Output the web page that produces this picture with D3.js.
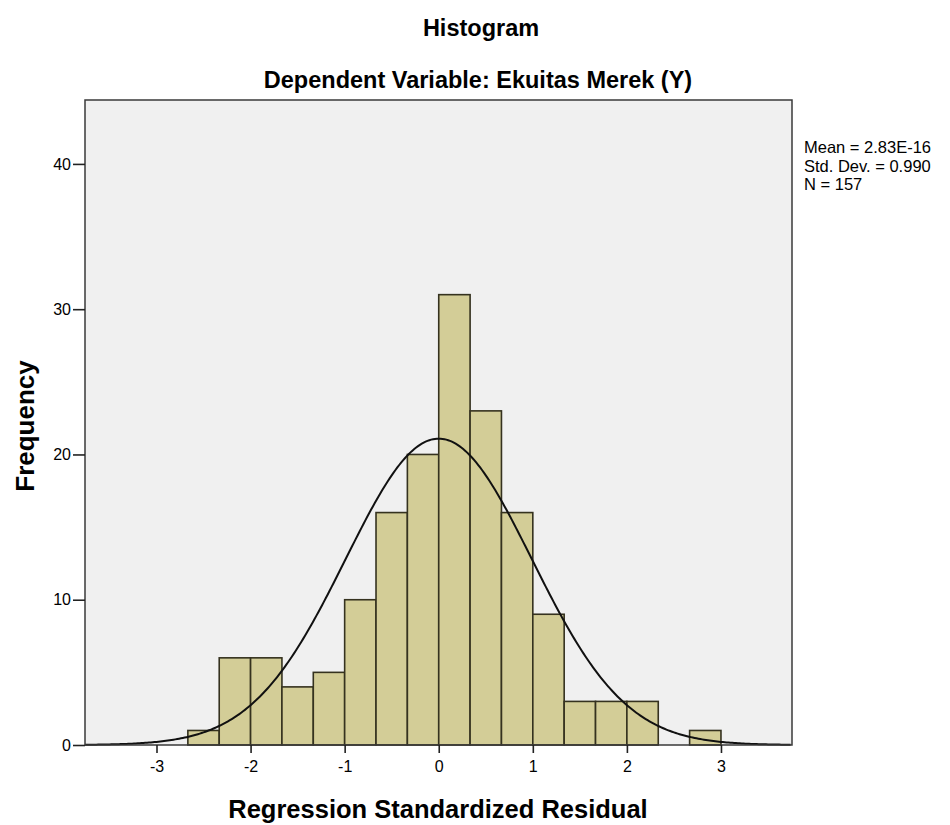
<!DOCTYPE html>
<html>
<head>
    <meta charset="utf-8" />
    <title>Histogram</title>
    <style>
        body { margin: 0; background: #fff; }
        text { font-family: "Liberation Sans", Arial, sans-serif; fill: #000; }
    </style>
</head>
<body>
    <div id="chart"></div>
    <script src="https://cdn.jsdelivr.net/npm/d3@7"></script>
    <script>
        // bins of width 1/3 starting at -8/3, counts
        var binStarts = [-8, -7, -6, -5, -4, -3, -2, -1, 0, 1, 2, 3, 4, 5, 6, 7, 8].map(function (k) { return k / 3; });
        var counts = [1, 6, 6, 4, 5, 10, 16, 20, 31, 23, 16, 9, 3, 3, 3, 0, 1];
        var binWidth = 1 / 3;
        var xTicks = [-3, -2, -1, 0, 1, 2, 3];
        var yTicks = [0, 10, 20, 30, 40];
        var statLines = ["Mean = 2.83E-16", "Std. Dev. = 0.990", "N = 157"];
        var mean = 2.83e-16, sd = 0.990, n = 157;

        var width = 950, height = 825;
        var margin = { top: 100, right: 158, bottom: 80, left: 85 };

        var svg = d3.select("#chart").append("svg")
            .attr("width", width)
            .attr("height", height);

        var x = d3.scaleLinear()
            .domain([-3.76, 3.755])
            .range([margin.left, width - margin.right]);

        var y = d3.scaleLinear()
            .domain([0, 44.4])
            .range([height - margin.bottom, margin.top]);

        // plot background
        svg.append("rect")
            .attr("x", margin.left)
            .attr("y", margin.top)
            .attr("width", x.range()[1] - x.range()[0])
            .attr("height", y.range()[0] - y.range()[1])
            .attr("fill", "#f0f0f0");

        var bins = binStarts.map(function (s, i) { return { x0: s, x1: s + binWidth, count: counts[i] }; });

        svg.append("g")
            .selectAll("rect")
            .data(bins.filter(function (d) { return d.count > 0; }))
            .join("rect")
            .attr("x", function (d) { return x(d.x0); })
            .attr("y", function (d) { return y(d.count); })
            .attr("width", function (d) { return x(d.x1) - x(d.x0); })
            .attr("height", function (d) { return y(0) - y(d.count); })
            .attr("fill", "#d3cd97")
            .attr("stroke", "#35321f")
            .attr("stroke-width", 1.6);

        // normal curve from the stated mean, sd and N
        var curvePts = d3.range(-3.76, 3.76, 0.02).map(function (v) {
            var z = (v - mean) / sd;
            return [v, n * binWidth * Math.exp(-0.5 * z * z) / (sd * Math.sqrt(2 * Math.PI))];
        });
        svg.append("path")
            .datum(curvePts)
            .attr("fill", "none")
            .attr("stroke", "#111")
            .attr("stroke-width", 2)
            .attr("d", d3.line().x(function (d) { return x(d[0]); }).y(function (d) { return y(d[1]); }));

        // frame
        svg.append("rect")
            .attr("x", margin.left)
            .attr("y", margin.top)
            .attr("width", x.range()[1] - x.range()[0])
            .attr("height", y.range()[0] - y.range()[1])
            .attr("fill", "none")
            .attr("stroke", "#3a3a3a")
            .attr("stroke-width", 1.5);

        var plainFmt = function (d) { return String(d); };

        var xAxis = svg.append("g")
            .attr("transform", "translate(0," + y(0) + ")")
            .call(d3.axisBottom(x).tickValues(xTicks).tickSize(8).tickPadding(8).tickFormat(plainFmt));
        xAxis.select(".domain").remove();
        xAxis.selectAll(".tick line").attr("stroke", "#222").attr("stroke-width", 1.6);
        xAxis.selectAll("text").attr("font-size", 16).attr("fill", "#222");

        var yAxis = svg.append("g")
            .attr("transform", "translate(" + x.range()[0] + ",0)")
            .call(d3.axisLeft(y).tickValues(yTicks).tickSize(12).tickPadding(2).tickFormat(plainFmt));
        yAxis.select(".domain").remove();
        yAxis.selectAll(".tick line").attr("stroke", "#222").attr("stroke-width", 1.6);
        yAxis.selectAll("text").attr("font-size", 16).attr("fill", "#222");

        // titles
        svg.append("text")
            .attr("x", 481).attr("y", 36)
            .attr("text-anchor", "middle")
            .attr("font-size", 23.5).attr("font-weight", "bold")
            .text("Histogram");
        svg.append("text")
            .attr("x", 478).attr("y", 88)
            .attr("text-anchor", "middle")
            .attr("font-size", 23.5).attr("font-weight", "bold")
            .text("Dependent Variable: Ekuitas Merek (Y)");

        svg.append("text")
            .attr("x", 438).attr("y", 818)
            .attr("text-anchor", "middle")
            .attr("font-size", 25.5).attr("font-weight", "bold")
            .text("Regression Standardized Residual");
        svg.append("text")
            .attr("transform", "translate(34,426) rotate(-90)")
            .attr("text-anchor", "middle")
            .attr("font-size", 26).attr("font-weight", "bold")
            .text("Frequency");

        svg.append("g")
            .selectAll("text")
            .data(statLines)
            .join("text")
            .attr("x", 804)
            .attr("y", function (d, i) { return 153 + i * 18.5; })
            .attr("font-size", 16.5)
            .attr("fill", "#222")
            .text(function (d) { return d; });
    </script>
</body>
</html>
